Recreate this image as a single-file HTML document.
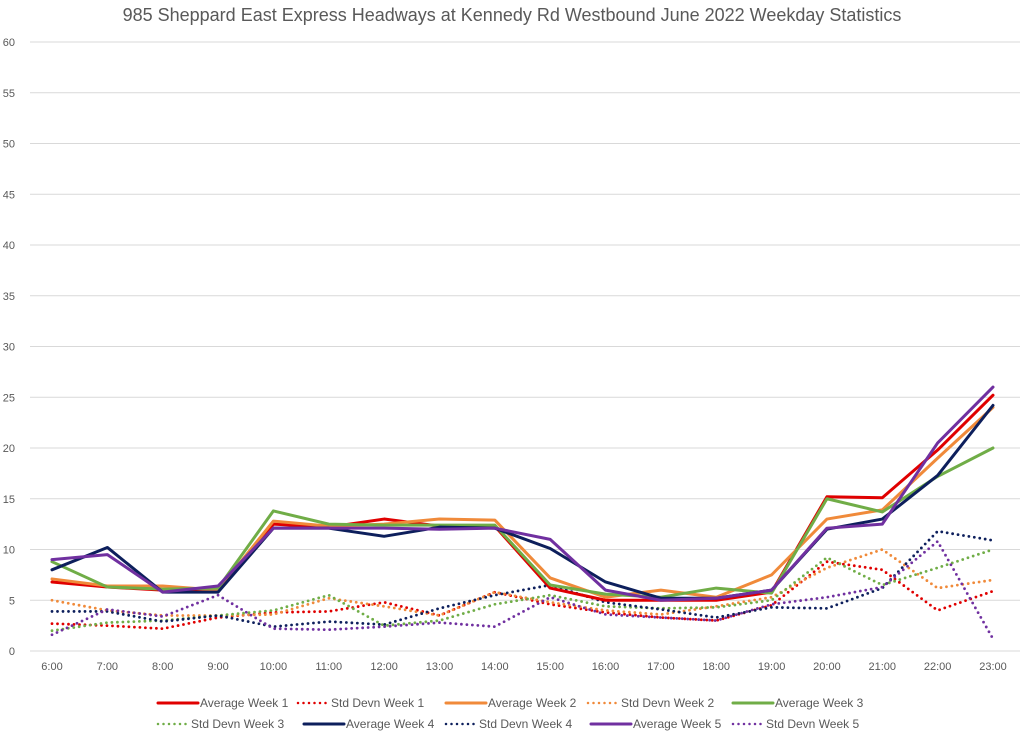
<!DOCTYPE html>
<html><head><meta charset="utf-8"><style>
body{margin:0;background:#fff;font-family:"Liberation Sans",sans-serif}
svg text{font-family:"Liberation Sans",sans-serif}
</style></head><body>
<svg id="c" width="1024" height="739" xmlns="http://www.w3.org/2000/svg">
<text x="512" y="21" text-anchor="middle" font-size="18" fill="#595959">985 Sheppard East Express Headways at Kennedy Rd Westbound June 2022 Weekday Statistics</text>
<g id="grid"></g><g id="series"></g><g id="legend"></g>
</svg>
<script>
const categories=["6:00","7:00","8:00","9:00","10:00","11:00","12:00","13:00","14:00","15:00","16:00","17:00","18:00","19:00","20:00","21:00","22:00","23:00"];
const yTicks=[0,5,10,15,20,25,30,35,40,45,50,55,60];
const avgW1=[6.8,6.3,6.0,6.0,12.5,12.2,13.0,12.3,12.3,6.2,5.0,5.0,5.0,5.8,15.2,15.1,19.8,25.2];
const avgW2=[7.1,6.4,6.4,6.0,12.8,12.3,12.5,13.0,12.9,7.2,5.3,6.0,5.3,7.5,13.0,13.9,19.0,24.0];
const avgW3=[8.8,6.3,6.1,6.2,13.8,12.5,12.4,12.4,12.4,6.5,5.6,5.3,6.2,5.7,15.0,13.7,17.2,20.0];
const avgW4=[8.0,10.2,5.8,5.8,12.1,12.1,11.3,12.2,12.1,10.1,6.8,5.2,5.2,6.0,12.0,13.0,17.3,24.2];
const avgW5=[9.0,9.5,5.8,6.4,12.1,12.1,12.1,12.0,12.1,11.0,6.0,5.0,5.2,6.0,12.1,12.5,20.5,26.0];
const sdW1=[2.7,2.5,2.2,3.3,3.8,3.9,4.8,3.5,5.8,4.6,3.8,3.3,3.0,4.5,8.8,8.0,4.0,5.9];
const sdW2=[5.0,4.0,3.5,3.5,3.6,5.2,4.4,3.5,5.8,4.8,4.0,3.6,4.4,5.3,8.2,10.0,6.2,7.0];
const sdW3=[2.0,2.8,3.0,3.5,4.0,5.5,2.5,3.0,4.6,5.5,4.4,4.2,4.3,5.0,9.2,6.5,8.2,10.0];
const sdW4=[3.9,3.9,2.9,3.5,2.4,2.9,2.6,4.2,5.5,6.5,4.8,4.1,3.3,4.3,4.2,6.2,11.8,10.9];
const sdW5=[1.6,4.1,3.4,5.5,2.2,2.1,2.4,2.8,2.4,5.3,3.6,3.3,3.0,4.6,5.3,6.3,10.8,1.2];
const NS="http://www.w3.org/2000/svg";
const X=i=>52+i*(993-52)/(categories.length-1);
const Y=v=>651-v*(651-42)/60;
function mk(t,a,p){const e=document.createElementNS(NS,t);for(const k in a)e.setAttribute(k,a[k]);p.appendChild(e);return e;}
const grid=document.getElementById('grid');
yTicks.forEach(v=>{
 const l=mk('line',{x1:30,x2:1020,y1:Y(v),y2:Y(v),stroke:'#d9d9d9','stroke-width':1},grid);
 
 
 const t=mk('text',{x:15,y:Y(v)+4,'text-anchor':'end','font-size':11,fill:'#595959'},grid);t.textContent=v;
 
 
});
categories.forEach((c,i)=>{
 const t=mk('text',{x:X(i),y:670,'text-anchor':'middle','font-size':11,fill:'#595959'},grid);t.textContent=c;
 
 
});
const series=[
 {n:"Average Week 1",d:avgW1,c:"#e00000",s:false},
 {n:"Std Devn Week 1",d:sdW1,c:"#e00000",s:true},
 {n:"Average Week 2",d:avgW2,c:"#f08a3a",s:false},
 {n:"Std Devn Week 2",d:sdW2,c:"#f08a3a",s:true},
 {n:"Average Week 3",d:avgW3,c:"#70ad47",s:false},
 {n:"Std Devn Week 3",d:sdW3,c:"#70ad47",s:true},
 {n:"Average Week 4",d:avgW4,c:"#0d1f5c",s:false},
 {n:"Std Devn Week 4",d:sdW4,c:"#0d1f5c",s:true},
 {n:"Average Week 5",d:avgW5,c:"#7030a0",s:false},
 {n:"Std Devn Week 5",d:sdW5,c:"#7030a0",s:true}];
const sg=document.getElementById('series');
const order=[1,3,5,7,9,0,2,4,6,8];
order.forEach(k=>{const s=series[k];
 const p=mk('polyline',{points:s.d.map((v,i)=>X(i)+','+Y(v)).join(' '),fill:'none',stroke:s.c,'stroke-width':3,'stroke-linejoin':'round','stroke-linecap':'round'},sg);
 if(s.s){p.setAttribute('stroke-dasharray','0 5.5');p.setAttribute('stroke-width',2.8);}
 
 
});
const lg=document.getElementById('legend');
const lx=[157,297,445,587,732,157,303,445,590,732];
series.forEach((s,k)=>{
 const y=k<5?703:724;const x=lx[k];
 const g=mk('g',{},lg);
 
 
 const len=s.s?30:41;
 const l=mk('line',{x1:x+1,x2:x+len,y1:y,y2:y,stroke:s.c,'stroke-width':3,'stroke-linecap':'round'},g);
 if(s.s){l.setAttribute('stroke-dasharray','0 5.5');l.setAttribute('stroke-width',2.5);}
 const t=mk('text',{x:x+(s.s?34:43),y:y+4,'font-size':12,fill:'#595959'},g);t.textContent=s.n;
});
</script>
</body></html>
